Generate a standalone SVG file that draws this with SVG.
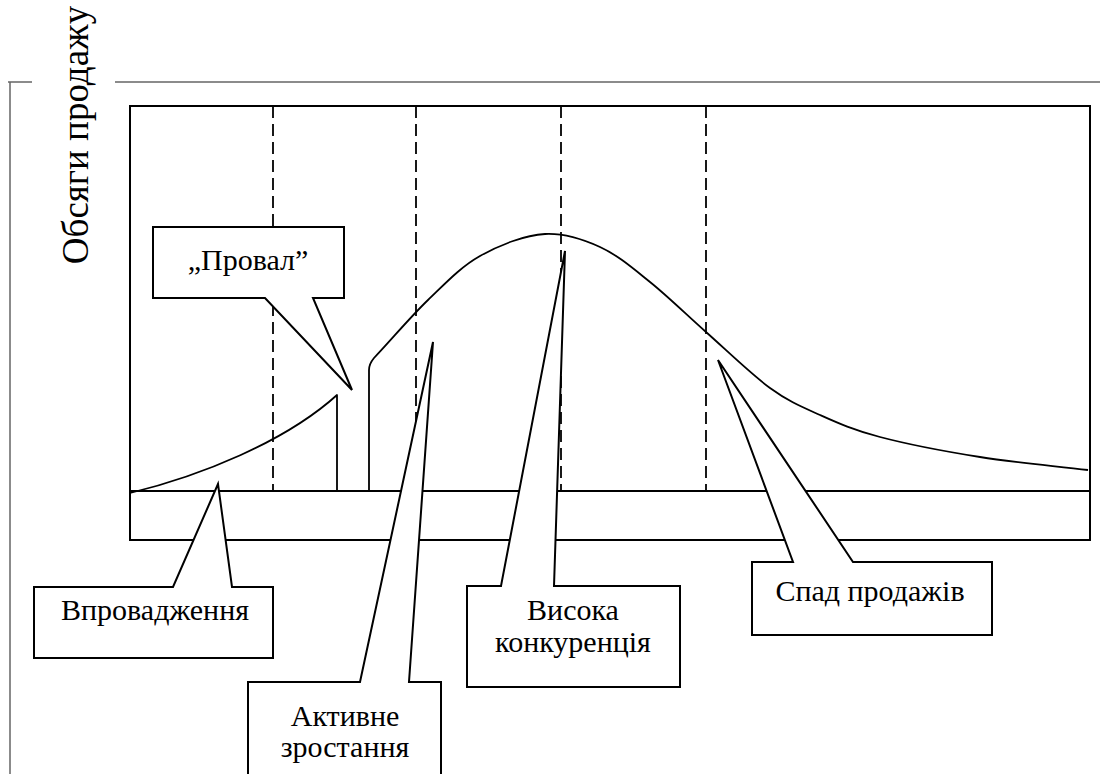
<svg xmlns="http://www.w3.org/2000/svg" width="1100" height="774" viewBox="0 0 1100 774">
<style>
.frame{fill:none;stroke:#666;stroke-width:1.5}
.ln{fill:none;stroke:#000;stroke-width:2}
.dash{fill:none;stroke:#000;stroke-width:1.8;stroke-dasharray:12 6}
.crv{fill:none;stroke:#000;stroke-width:1.8;stroke-linejoin:round}
.call{fill:#fff;stroke:#000;stroke-width:2;stroke-linejoin:miter}
.t{font-family:'Liberation Serif','Times New Roman',serif;font-size:30px;fill:#000;text-anchor:middle}
.ax{font-family:'Liberation Serif','Times New Roman',serif;font-size:37px;fill:#000;text-anchor:middle}
</style>
<rect width="1100" height="774" fill="#fff"/>
<g id="frame">
<path class="frame" d="M8,82 H32 M115,82 H1100 M10,82 V774"/>
</g>
<g id="axis-label">
<text class="ax" transform="translate(88,135) rotate(-90)">Обсяги продажу</text>
</g>
<g id="chart">
<rect class="ln" x="130" y="106" width="960" height="434"/>
<line class="ln" x1="130" y1="491" x2="1090" y2="491"/>
<path class="dash" d="M273,106 V491 M416,106 V491 M561,106 V491 M706,106 V491"/>
</g>
<g id="connectors">
<path class="crv" d="M130,493 C200,476 285,442 337,395 V491"/>
<path class="crv" d="M369,491 V370 Q369,364 374,358 C392,339 410.3,317 428,300 C445.7,283 460.5,267 480,256 C499.5,245 525,235 545,234 C565,233 582.5,239 600,247 C617.5,255 632.3,267.8 650,282 C667.7,296.2 686,314.3 706,332 C726,349.7 751,374.2 770,388 C789,401.8 801.7,406.8 820,415 C838.3,423.2 853.3,430 880,437 C906.7,444 945.3,451.5 980,457 C1014.7,462.5 1052,465.7 1088,470"/>
</g>
<g id="callout-proval">
<polygon class="call" points="153,227 344,227 344,298 313,298 352,390 265,298 153,298"/>
<text class="t" x="248" y="270">„Провал”</text>
</g>
<g id="callout-vprovadzhennia">
<polygon class="call" points="34,587 173,587 218,484 232,587 273,587 273,658 34,658"/>
<text class="t" x="155" y="620">Впровадження</text>
</g>
<g id="callout-aktyvne">
<polygon class="call" points="248,780 248,682 360,682 433,342 409,682 441,682 441,780"/>
<text class="t" x="345" y="726">Активне</text>
<text class="t" x="345" y="757">зростання</text>
</g>
<g id="callout-vysoka">
<polygon class="call" points="467,586 501,586 565,251 554,586 680,586 680,687 467,687"/>
<text class="t" x="573" y="620">Висока</text>
<text class="t" x="573" y="652">конкуренція</text>
</g>
<g id="callout-spad">
<polygon class="call" points="752,562 793,562 718,360 853,562 992,562 992,635 752,635"/>
<text class="t" x="870" y="601">Спад продажів</text>
</g>
</svg>
